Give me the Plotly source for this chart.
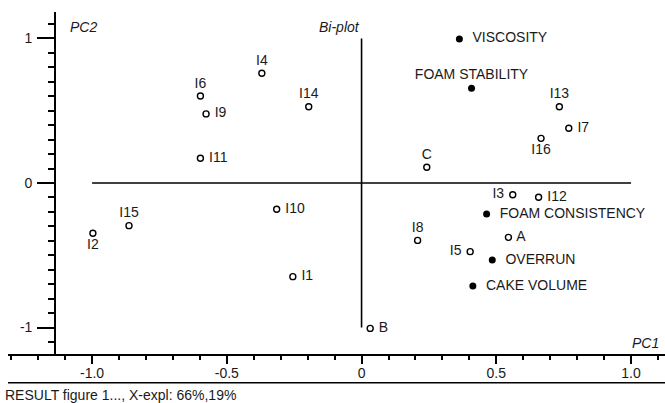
import plotly.graph_objects as go

# Sample scores (open circles)
sample_names = ["I1", "I2", "I3", "I4", "I5", "I6", "I7", "I8", "I9", "I10",
                "I11", "I12", "I13", "I14", "I15", "I16", "A", "B", "C"]
sample_pc1 = [-0.255, -0.997, 0.561, -0.370, 0.403, -0.598, 0.769, 0.208, -0.577, -0.315,
              -0.598, 0.657, 0.734, -0.196, -0.863, 0.666, 0.545, 0.032, 0.242]
sample_pc2 = [-0.648, -0.348, -0.081, 0.759, -0.475, 0.602, 0.379, -0.397, 0.478, -0.182,
              0.171, -0.099, 0.528, 0.528, -0.295, 0.309, -0.376, -1.006, 0.109]
sample_textpos = ["middle right", "bottom center", "middle left", "top center", "middle left",
                  "top center", "middle right", "top center", "middle right", "middle right",
                  "middle right", "middle right", "top center", "top center", "top center",
                  "bottom center", "middle right", "middle right", "top center"]

# Variable loadings (filled circles)
var_names = ["VISCOSITY", "FOAM STABILITY", "FOAM CONSISTENCY", "OVERRUN", "CAKE VOLUME"]
var_pc1 = [0.363, 0.408, 0.464, 0.485, 0.413]
var_pc2 = [0.997, 0.655, -0.215, -0.533, -0.713]
var_textpos = ["middle right", "top center", "middle right", "middle right", "middle right"]

x_tickvals = [-1.0, -0.5, 0, 0.5, 1.0]
x_ticktext = ["-1.0", "-0.5", "0", "0.5", "1.0"]
y_tickvals = [-1, 0, 1]
y_ticktext = ["-1", "0", "1"]

FONT = "Arial, 'Liberation Sans', sans-serif"
TXT = "#1a1a1a"

fig = go.Figure()

fig.add_trace(go.Scatter(
    x=sample_pc1, y=sample_pc2, mode="markers+text",
    text=[(" " + n) if p == "middle right" else ((n + " ") if p == "middle left" else n)
          for n, p in zip(sample_names, sample_textpos)],
    textposition=sample_textpos,
    marker=dict(symbol="circle-open", size=6, color="black", line=dict(width=1.4, color="black")),
    textfont=dict(family=FONT, size=14, color=TXT),
    cliponaxis=False, showlegend=False, hoverinfo="skip"))

fig.add_trace(go.Scatter(
    x=var_pc1, y=var_pc2, mode="markers+text",
    text=["  " + n if p == "middle right" else n for n, p in zip(var_names, var_textpos)],
    textposition=var_textpos,
    marker=dict(symbol="circle", size=7, color="black"),
    textfont=dict(family=FONT, size=14, color=TXT),
    cliponaxis=False, showlegend=False, hoverinfo="skip"))

# crosshair lines through origin
fig.add_shape(type="line", xref="x", yref="y", x0=-1, x1=1, y0=0, y1=0,
              line=dict(color="black", width=1.6), layer="below")
fig.add_shape(type="line", xref="x", yref="y", x0=0, x1=0, y0=-1, y1=1,
              line=dict(color="black", width=1.6), layer="below")
# separator line above footer
fig.add_shape(type="line", xref="paper", yref="paper", x0=0, x1=1, y0=-0.084, y1=-0.084,
              line=dict(color="black", width=1.6))

fig.add_annotation(text="<i>PC2</i>", xref="paper", yref="paper", x=0.091, y=0.955,
                   xanchor="left", yanchor="middle", showarrow=False,
                   font=dict(family=FONT, size=14, color=TXT))
fig.add_annotation(text="<i>Bi-plot</i>", xref="paper", yref="paper", x=0.504, y=0.955,
                   xanchor="center", yanchor="middle", showarrow=False,
                   font=dict(family=FONT, size=14, color=TXT))
fig.add_annotation(text="<i>PC1</i>", xref="paper", yref="paper", x=0.97, y=0.033,
                   xanchor="center", yanchor="middle", showarrow=False,
                   font=dict(family=FONT, size=14, color=TXT))
fig.add_annotation(text="RESULT figure 1..., X-expl: 66%,19%", xref="paper", yref="paper",
                   x=-0.008, y=-0.12, xanchor="left", yanchor="middle", showarrow=False,
                   font=dict(family=FONT, size=14, color=TXT))

fig.update_layout(
    width=665, height=403,
    margin=dict(l=8, r=0, t=12, b=49),
    paper_bgcolor="white", plot_bgcolor="white",
    font=dict(family=FONT, size=14, color=TXT),
    xaxis=dict(range=[-1.312, 1.126], showgrid=False, zeroline=False,
               showline=True, linecolor="black", linewidth=1.6,
               ticks="outside", ticklen=8, tickwidth=1.5, tickcolor="black",
               tickvals=x_tickvals, ticktext=x_ticktext, ticklabelstandoff=-3,
               minor=dict(dtick=0.1, tick0=0, ticks="outside", ticklen=4,
                          tickwidth=1.5, tickcolor="black", showgrid=False),
               tickfont=dict(family=FONT, size=14, color=TXT)),
    yaxis=dict(range=[-1.183, 1.183], showgrid=False, zeroline=False,
               anchor="free", position=0.0715,
               showline=True, linecolor="black", linewidth=1.6,
               ticks="outside", ticklen=17, tickwidth=1.5, tickcolor="black",
               tickvals=y_tickvals, ticktext=y_ticktext, ticklabelstandoff=2,
               minor=dict(dtick=0.1, tick0=0, ticks="outside", ticklen=6,
                          tickwidth=1.5, tickcolor="black", showgrid=False),
               tickfont=dict(family=FONT, size=14, color=TXT)),
)

fig.write_html("out.html",
               config={"displayModeBar": False},
               post_script="document.body.style.margin='0';document.body.style.padding='0';"
                           "document.body.style.overflow='hidden';")
